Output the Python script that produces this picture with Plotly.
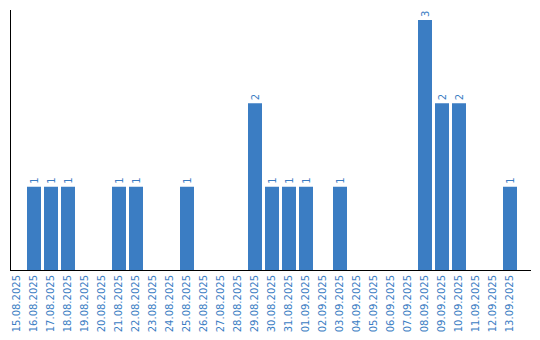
import plotly.graph_objects as go

dates = ["15.08.2025", "16.08.2025", "17.08.2025", "18.08.2025", "19.08.2025", "20.08.2025",
         "21.08.2025", "22.08.2025", "23.08.2025", "24.08.2025", "25.08.2025", "26.08.2025",
         "27.08.2025", "28.08.2025", "29.08.2025", "30.08.2025", "31.08.2025", "01.09.2025",
         "02.09.2025", "03.09.2025", "04.09.2025", "05.09.2025", "06.09.2025", "07.09.2025",
         "08.09.2025", "09.09.2025", "10.09.2025", "11.09.2025", "12.09.2025", "13.09.2025"]
counts = [0, 1, 1, 1, 0, 0, 1, 1, 0, 0, 1, 0, 0, 0, 2, 1, 1, 1, 0, 1, 0, 0, 0, 0, 3, 2, 2, 0, 0, 1]

blue = "#3b7dc3"
labels = [str(v) if v > 0 else "" for v in counts]

fig = go.Figure(go.Bar(
    x=dates, y=counts, marker_color=blue, marker_line_width=0,
    text=labels, textposition="outside", textangle=-90,
    textfont=dict(family="DejaVu Sans", size=10, color=blue),
    cliponaxis=False,
))
fig.update_layout(
    width=540, height=340,
    margin=dict(l=11, r=9, t=10, b=70, autoexpand=False),
    paper_bgcolor="white", plot_bgcolor="white",
    bargap=3 / 17, showlegend=False,
    xaxis=dict(type="category", range=[-6 / 17, 30.235], showline=True,
               linecolor="black", linewidth=1,
               ticks="", tickangle=-90, automargin=False,
               tickfont=dict(family="DejaVu Sans", size=10, color=blue),
               showgrid=False),
    yaxis=dict(range=[0, 3.12], showline=True, linecolor="black", linewidth=1,
               showticklabels=False, ticks="", showgrid=False, zeroline=False),
)
fig.write_html("out.html", config={"displayModeBar": False})

with open("out.html", "r", encoding="utf-8") as f:
    html = f.read()
html = html.replace("<head>", "<head><style>html,body{margin:0;padding:0;overflow:hidden}</style>", 1)
with open("out.html", "w", encoding="utf-8") as f:
    f.write(html)
